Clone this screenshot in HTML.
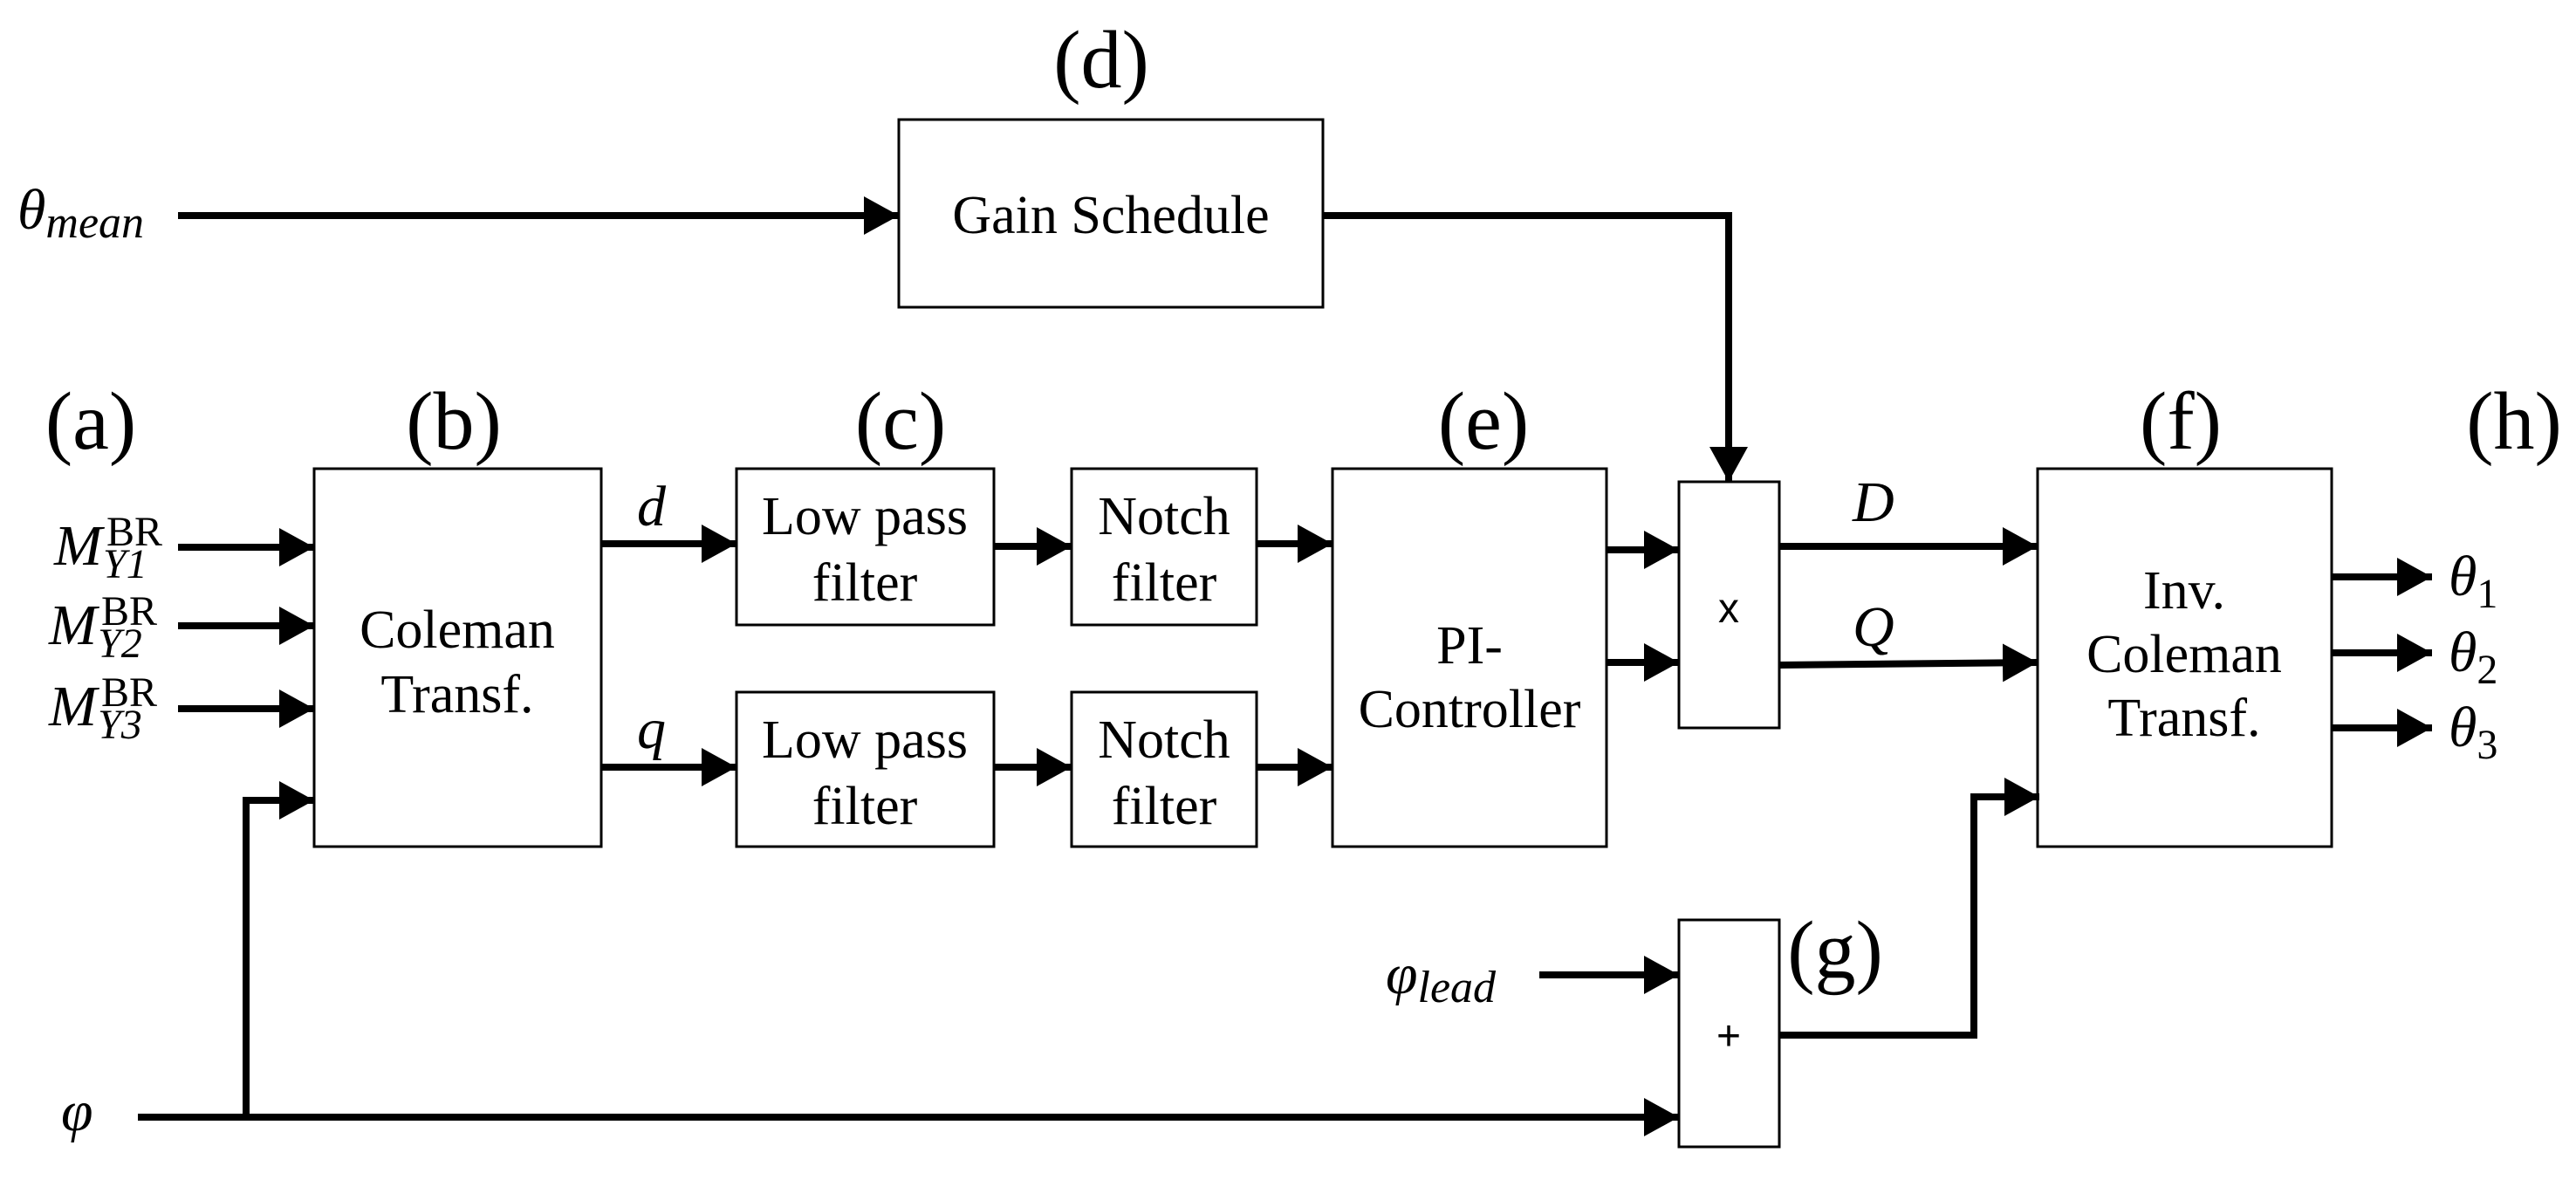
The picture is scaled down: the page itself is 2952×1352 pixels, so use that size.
<!DOCTYPE html>
<html><head><meta charset="utf-8"><style>
html,body{margin:0;padding:0;background:#fff;}
svg{display:block;}
.t{font-family:"Liberation Serif",serif;fill:#000;}
.m{font-family:"Liberation Serif",serif;font-style:italic;fill:#000;}
.s{font-family:"Liberation Sans",sans-serif;fill:#000;}
</style></head><body>
<svg width="2952" height="1352" viewBox="0 0 2952 1352" xmlns="http://www.w3.org/2000/svg">
<defs>
<marker id="a" markerUnits="userSpaceOnUse" markerWidth="42" markerHeight="44" refX="40" refY="22" orient="auto">
<path d="M0,0 L40,22 L0,44 Z" fill="#000"/></marker>
</defs>
<g fill="none" stroke="#000" stroke-width="3">
<rect x="1030" y="137" width="486" height="215"/>
<rect x="360" y="537" width="329" height="433"/>
<rect x="844" y="537" width="295" height="179"/>
<rect x="1228" y="537" width="212" height="179"/>
<rect x="844" y="793" width="295" height="177"/>
<rect x="1228" y="793" width="212" height="177"/>
<rect x="1527" y="537" width="314" height="433"/>
<rect x="1924" y="552" width="115" height="282"/>
<rect x="2335" y="537" width="337" height="433"/>
<rect x="1924" y="1054" width="115" height="260"/>
</g>
<g fill="none" stroke="#000" stroke-width="8" marker-end="url(#a)">
<line x1="204" y1="247" x2="1030" y2="247"/>
<polyline points="1516,247 1981,247 1981,552"/>
<line x1="204" y1="627" x2="360" y2="627"/>
<line x1="204" y1="717" x2="360" y2="717"/>
<line x1="204" y1="812" x2="360" y2="812"/>
<polyline points="282,1280 282,917 360,917"/>
<line x1="689" y1="623" x2="844" y2="623"/>
<line x1="689" y1="879" x2="844" y2="879"/>
<line x1="1139" y1="626" x2="1228" y2="626"/>
<line x1="1139" y1="879" x2="1228" y2="879"/>
<line x1="1440" y1="623" x2="1527" y2="623"/>
<line x1="1440" y1="879" x2="1527" y2="879"/>
<line x1="1841" y1="630" x2="1924" y2="630"/>
<line x1="1841" y1="759" x2="1924" y2="759"/>
<line x1="2039" y1="626" x2="2335" y2="626"/>
<line x1="2039" y1="762" x2="2335" y2="759"/>
<line x1="2672" y1="661" x2="2787" y2="661"/>
<line x1="2672" y1="748" x2="2787" y2="748"/>
<line x1="2672" y1="834" x2="2787" y2="834"/>
<line x1="1764" y1="1117" x2="1924" y2="1117"/>
<line x1="158" y1="1280" x2="1924" y2="1280"/>
<polyline points="2039,1186 2262,1186 2262,913 2337,913"/>
</g>
<g class="t" font-size="94" text-anchor="middle">
<text x="1262" y="100">(d)</text>
<text x="104" y="514">(a)</text>
<text x="520" y="514">(b)</text>
<text x="1032" y="514">(c)</text>
<text x="1700" y="514">(e)</text>
<text x="2499" y="514">(f)</text>
<text x="2881" y="514">(h)</text>
<text x="2103" y="1120">(g)</text>
</g>
<g class="t" font-size="62" text-anchor="middle">
<text x="1273" y="267">Gain Schedule</text>
<text x="524" y="742">Coleman</text>
<text x="524" y="816">Transf.</text>
<text x="991" y="612">Low pass</text>
<text x="991" y="688">filter</text>
<text x="1334" y="612">Notch</text>
<text x="1334" y="688">filter</text>
<text x="991" y="868">Low pass</text>
<text x="991" y="944">filter</text>
<text x="1334" y="868">Notch</text>
<text x="1334" y="944">filter</text>
<text x="1684" y="760">PI-</text>
<text x="1684" y="833">Controller</text>
<text x="2503" y="697">Inv.</text>
<text x="2503" y="770">Coleman</text>
<text x="2503" y="843">Transf.</text>
</g>
<g class="s" font-size="48" text-anchor="middle">
<text x="1981" y="713">x</text>
<text x="1981" y="1203">+</text>
</g>
<g class="m" font-size="66">
<text x="20" y="262">θ<tspan font-size="52" dy="10">mean</tspan></text>
<text x="62" y="647">M</text><text x="118" y="662" font-size="48">Y1</text><text x="122" y="625" font-size="48" font-style="normal">BR</text>
<text x="56" y="738">M</text><text x="112" y="753" font-size="48">Y2</text><text x="116" y="716" font-size="48" font-style="normal">BR</text>
<text x="56" y="831">M</text><text x="112" y="846" font-size="48">Y3</text><text x="116" y="809" font-size="48" font-style="normal">BR</text>
<text x="70" y="1295">φ</text>
<text x="730" y="602">d</text>
<text x="730" y="857">q</text>
<text x="2123" y="597">D</text>
<text x="2123" y="740">Q</text>
<text x="1588" y="1138">φ<tspan font-size="52" dy="10">lead</tspan></text>
<text x="2806" y="682">θ<tspan font-size="48" dy="14" font-style="normal">1</tspan></text>
<text x="2806" y="769">θ<tspan font-size="48" dy="14" font-style="normal">2</tspan></text>
<text x="2806" y="855">θ<tspan font-size="48" dy="14" font-style="normal">3</tspan></text>
</g>
</svg>
</body></html>
